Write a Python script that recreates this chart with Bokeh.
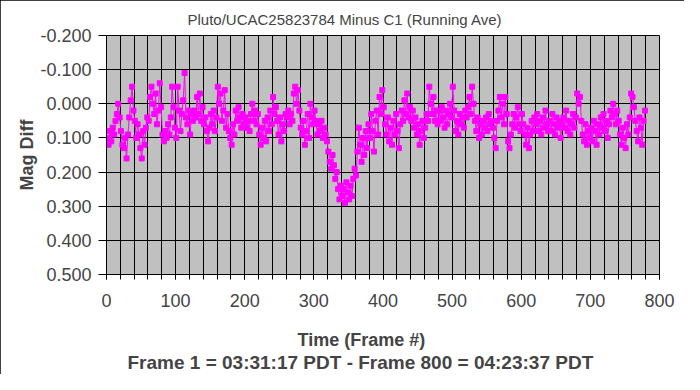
import numpy as np
from bokeh.plotting import figure
from bokeh.models import (Range1d, FixedTicker, NumeralTickFormatter, Title,
                          ColumnDataSource, InlineStyleSheet)
from bokeh.embed import file_html
from bokeh.resources import INLINE

title_text = "Pluto/UCAC25823784 Minus  C1 (Running Ave)"
x_title = "Time (Frame #)"
x_subtitle = "Frame 1 = 03:31:17 PDT - Frame 800 = 04:23:37 PDT"
y_title = "Mag Diff"
x_ticks = [0, 100, 200, 300, 400, 500, 600, 700, 800]
y_ticks = [-0.2, -0.1, 0.0, 0.1, 0.2, 0.3, 0.4, 0.5]

# magnitude difference, every second frame starting at frame 1
mag_f001 = [0.10, 0.12, 0.08, 0.11, 0.07, 0.09, 0.05, 0.03, 0.00, 0.04]
mag_f021 = [0.08, 0.12, 0.13, 0.10, 0.16, 0.09, 0.04, -0.01, -0.05, 0.02]
mag_f041 = [0.05, 0.10, 0.06, 0.09, 0.13, 0.16, 0.08, 0.12, 0.07, 0.04]
mag_f061 = [0.05, -0.02, -0.05, 0.00, 0.03, -0.03, 0.06, 0.02, -0.06, 0.01]
mag_f081 = [0.09, 0.11, 0.08, 0.10, 0.06, 0.09, 0.04, -0.05, 0.01, 0.07]
mag_f101 = [0.10, -0.05, 0.02, 0.08, 0.03, -0.01, -0.09, 0.04, 0.06, 0.02]
mag_f121 = [0.09, 0.03, 0.05, 0.02, 0.04, -0.02, 0.03, -0.03, 0.05, 0.01]
mag_f141 = [0.06, 0.04, 0.08, 0.11, 0.07, 0.03, 0.06, 0.02, 0.08, 0.04]
mag_f161 = [-0.05, 0.00, -0.03, 0.05, 0.02, -0.04, 0.07, 0.03, 0.08, 0.10]
mag_f181 = [0.12, 0.06, 0.09, 0.02, 0.05, 0.01, 0.04, 0.07, 0.03, 0.06]
mag_f201 = [0.04, 0.07, 0.05, 0.08, 0.03, 0.00, 0.05, 0.02, 0.06, 0.03]
mag_f221 = [0.09, 0.12, 0.07, 0.10, 0.05, 0.11, 0.04, 0.08, 0.02, 0.06]
mag_f241 = [-0.02, 0.03, 0.01, 0.05, 0.09, 0.04, 0.11, 0.06, 0.08, 0.03]
mag_f261 = [0.04, 0.02, 0.06, 0.03, 0.05, -0.03, -0.05, 0.00, -0.04, 0.02]
mag_f281 = [0.07, 0.09, 0.05, 0.12, 0.08, 0.03, 0.10, 0.00, 0.04, 0.06]
mag_f301 = [0.02, 0.05, 0.09, 0.06, 0.08, 0.05, 0.10, 0.07, 0.09, 0.11]
mag_f321 = [0.14, 0.17, 0.19, 0.15, 0.18, 0.22, 0.20, 0.25, 0.28, 0.24]
mag_f341 = [0.27, 0.25, 0.29, 0.23, 0.26, 0.28, 0.24, 0.27, 0.22, 0.19]
mag_f361 = [0.21, 0.14, 0.07, 0.12, 0.17, 0.10, 0.15, 0.08, 0.13, 0.06]
mag_f381 = [0.10, 0.03, 0.08, 0.14, 0.05, 0.02, 0.09, -0.02, 0.03, -0.04]
mag_f401 = [0.01, 0.06, 0.09, 0.04, 0.11, 0.07, 0.12, 0.05, 0.09, 0.03]
mag_f421 = [0.08, 0.13, 0.06, 0.02, 0.05, -0.01, 0.03, -0.03, 0.04, 0.01]
mag_f441 = [0.05, 0.02, 0.07, 0.04, 0.09, 0.06, 0.12, 0.08, 0.05, 0.10]
mag_f461 = [0.07, 0.03, 0.05, -0.05, 0.00, 0.03, -0.02, 0.05, 0.02, 0.06]
mag_f481 = [0.02, 0.05, 0.01, 0.04, 0.07, 0.02, 0.06, 0.03, 0.00, 0.04]
mag_f501 = [-0.05, 0.02, 0.08, 0.05, 0.09, 0.03, 0.06, 0.04, 0.07, 0.02]
mag_f521 = [0.04, 0.01, -0.02, 0.03, -0.05, 0.00, 0.05, 0.08, 0.04, 0.10]
mag_f541 = [0.06, 0.09, 0.05, 0.07, 0.04, 0.08, 0.03, 0.06, 0.05, 0.07]
mag_f561 = [0.10, 0.13, 0.05, 0.02, -0.02, 0.04, 0.00, 0.06, -0.02, 0.03]
mag_f581 = [0.11, 0.13, 0.09, 0.06, 0.03, 0.07, 0.04, 0.01, 0.06, 0.08]
mag_f601 = [0.03, 0.06, 0.09, 0.12, 0.07, 0.13, 0.09, 0.05, 0.08, 0.04]
mag_f621 = [0.06, 0.03, 0.08, 0.05, 0.09, 0.04, 0.07, 0.02, 0.06, 0.08]
mag_f641 = [0.05, 0.08, 0.03, 0.06, 0.09, 0.04, 0.07, 0.05, 0.10, 0.06]
mag_f661 = [0.04, 0.07, 0.02, 0.08, 0.05, 0.09, 0.06, 0.03, 0.07, 0.04]
mag_f681 = [-0.03, 0.00, -0.02, 0.05, 0.09, 0.11, 0.06, 0.12, 0.08, 0.10]
mag_f701 = [0.07, 0.11, 0.05, 0.08, 0.12, 0.06, 0.09, 0.04, 0.07, 0.03]
mag_f721 = [0.08, 0.05, 0.10, 0.06, 0.02, 0.04, 0.00, 0.03, 0.06, 0.02]
mag_f741 = [0.05, 0.09, 0.12, 0.07, 0.10, 0.13, 0.06, 0.09, 0.04, -0.03]
mag_f761 = [-0.02, 0.01, 0.05, 0.08, 0.11, 0.04, 0.07, 0.12, 0.05, 0.02]

blocks = [mag_f001, mag_f021, mag_f041, mag_f061, mag_f081, mag_f101, mag_f121,
          mag_f141, mag_f161, mag_f181, mag_f201, mag_f221, mag_f241, mag_f261,
          mag_f281, mag_f301, mag_f321, mag_f341, mag_f361, mag_f381, mag_f401,
          mag_f421, mag_f441, mag_f461, mag_f481, mag_f501, mag_f521, mag_f541,
          mag_f561, mag_f581, mag_f601, mag_f621, mag_f641, mag_f661, mag_f681,
          mag_f701, mag_f721, mag_f741, mag_f761]
mag = [v for b in blocks for v in b]
frames = list(range(1, 2 * len(mag), 2))

FONT = "Liberation Sans"
MAGENTA = "#FF00FF"

p = figure(width=684, height=374, output_backend="svg", toolbar_location=None,
           x_range=Range1d(0, 800), y_range=Range1d(0.5, -0.2),
           min_border_left=106, min_border_right=25, min_border_top=35, min_border_bottom=100)
p.stylesheets = [InlineStyleSheet(css=":host { outline: 1px solid black; outline-offset: -1px; }")]

p.background_fill_color = "#C0C0C0"
p.border_fill_color = "white"
p.outline_line_color = "black"
p.outline_line_width = 1

# title
p.title.text = title_text
p.title.text_font = FONT
p.title.text_font_size = "15px"
p.title.text_font_style = "normal"
p.title.align = "left"
p.title.offset = 81
p.title.standoff = 16

# x axis
xa = p.xaxis[0]
xa.ticker = FixedTicker(ticks=x_ticks, minor_ticks=list(range(0, 801, 20)))
xa.major_label_text_font = FONT
xa.major_label_text_font_size = "18px"
xa.major_label_standoff = 14
xa.major_tick_out = 5
xa.major_tick_in = 0
xa.minor_tick_out = 5
xa.minor_tick_in = 0
xa.axis_line_color = "black"
xa.major_tick_line_color = "black"
xa.minor_tick_line_color = "black"
xa.axis_label = None

# spacer, axis title and subtitle below the axis
p.add_layout(Title(text=" ", text_font=FONT, text_font_size="1px", standoff=15), "below")
p.add_layout(Title(text=x_title, text_font=FONT, text_font_size="18px",
                   text_font_style="bold", align="left", offset=191, standoff=0), "below")
p.add_layout(Title(text=x_subtitle, text_font=FONT, text_font_size="19px",
                   text_font_style="bold", align="left", offset=21, standoff=0), "below")

# y axis
ya = p.yaxis[0]
ya.ticker = FixedTicker(ticks=y_ticks, minor_ticks=[])
ya.formatter = NumeralTickFormatter(format="0.000")
ya.major_label_text_font = FONT
ya.major_label_text_font_size = "18px"
ya.major_label_standoff = 7
ya.major_tick_out = 8
ya.major_tick_in = 0
ya.axis_line_color = "black"
ya.major_tick_line_color = "black"
ya.axis_label = y_title
ya.axis_label_text_font = FONT
ya.axis_label_text_font_size = "18px"
ya.axis_label_text_font_style = "bold"
ya.axis_label_standoff = 0

# grids
p.xgrid.grid_line_color = "black"
p.xgrid.minor_grid_line_color = "black"
p.xgrid.grid_line_width = 1
p.xgrid.minor_grid_line_width = 1
p.ygrid.grid_line_color = "black"
p.ygrid.grid_line_width = 1

src = ColumnDataSource(data=dict(frame=frames, mag=mag))
p.line("frame", "mag", source=src, line_color=MAGENTA, line_width=1)
p.scatter("frame", "mag", source=src, marker="square", size=5,
          fill_color=MAGENTA, line_color=MAGENTA)

open("out.html", "w").write(file_html(p, INLINE))
